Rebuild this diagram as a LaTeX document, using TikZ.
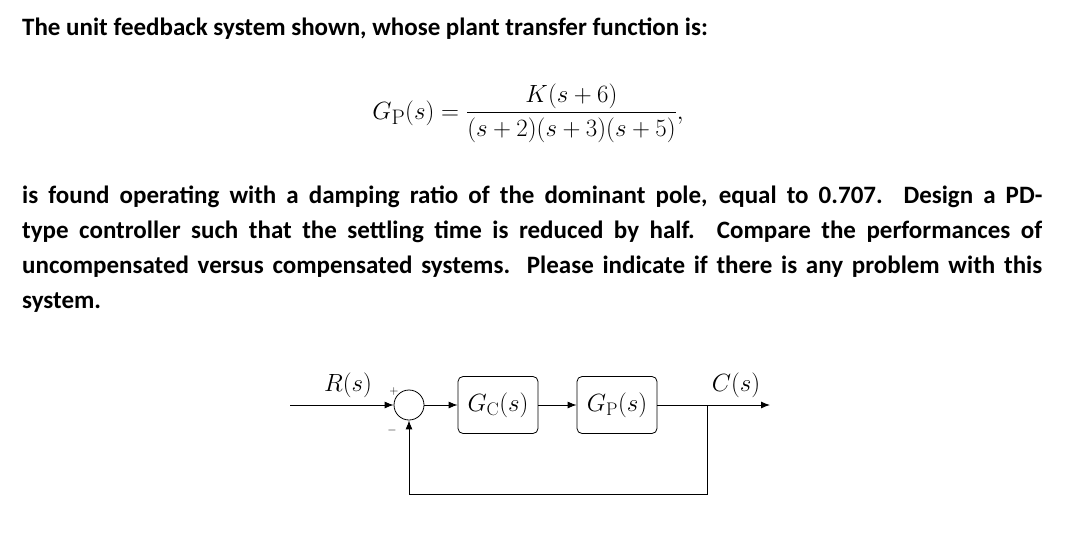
\documentclass[tikz,border=0pt]{standalone}
\usepackage{amsmath}
\usepackage{fontspec}
\setsansfont{Carlito}
\usetikzlibrary{arrows.meta}
\begin{document}
\begin{tikzpicture}[x=1pt,y=-1pt,
  txt/.style={font=\sffamily\bfseries\fontsize{25}{35}\selectfont,inner sep=0pt},
  blk/.style={draw,rounded corners=5pt,minimum width=80pt,minimum height=57pt,font=\fontsize{26}{30}\selectfont,inner sep=1pt,line width=0.8pt},
  sig/.style={line width=0.9pt,-{Latex[length=9pt,width=7pt]}},
  lbl/.style={font=\fontsize{26}{30}\selectfont}]
\useasboundingbox (0,0) rectangle (1080,544);
\node[txt,anchor=base west] (t1) at (22,35) {The unit feedback system shown, whose plant transfer function is:};
\node[font=\fontsize{30}{36}\selectfont] (eq) at (528,113) {$G_{\mathrm{P}}(s)=\dfrac{K(s+6)}{(s+2)(s+3)(s+5)},$};
\node[txt,anchor=north west,text width=1020pt,align=justify] (par) at (22,186) {is found operating with a damping ratio of the dominant pole, equal to 0.707. Design a PD-\linebreak type controller such that the settling time is reduced by half. Compare the performances of\linebreak uncompensated versus compensated systems. Please indicate if there is any problem with this\linebreak system.};
\coordinate (in) at (290,405);
\node[draw,circle,minimum size=30pt,inner sep=0pt,line width=0.8pt] (sum) at (409,405) {};
\node[blk] (gc) at (498,405) {$G_{\mathrm{C}}(s)$};
\node[blk] (gp) at (617,405) {$G_{\mathrm{P}}(s)$};
\coordinate (br) at (707,405);
\coordinate (out) at (770,405);
\coordinate (bot) at (707,494);
\draw[sig] (in) -- (sum);
\draw[sig] (sum) -- (gc);
\draw[sig] (gc) -- (gp);
\draw[sig] (gp) -- (out);
\draw[sig] (br) -- (bot) -| (sum);
\node[lbl] (r) at (348,385) {$R(s)$};
\node[lbl] (c) at (736,385) {$C(s)$};
\node[font=\fontsize{13}{14}\selectfont] (p) at (394,391) {$+$};
\node[font=\fontsize{13}{14}\selectfont] (m) at (392,430) {$-$};
\end{tikzpicture}
\end{document}
